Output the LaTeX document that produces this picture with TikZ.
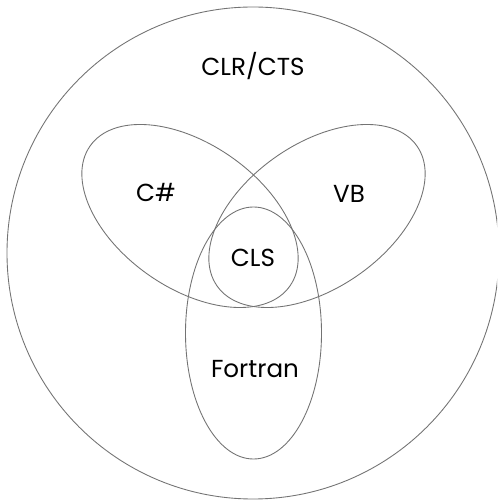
\documentclass[tikz,border=0pt]{standalone}
\usepackage{fontspec}
\setmainfont{Poppins}
\usetikzlibrary{positioning}

\begin{document}
\begin{tikzpicture}[x=0.02cm, y=0.02cm]
	\tikzstyle{set}=[draw=black!55, line width=0.5pt]
	\tikzstyle{settext}=[anchor=base, inner sep=0pt, font=\fontsize{14}{16}\selectfont]
	\useasboundingbox (0,0) rectangle (497,500);
	\clip (0,0) rectangle (497,500);

	% the runtime and the three languages
	\draw[set] (253,247) circle (246);
	\draw[set] (190,284) ellipse [x radius=122, y radius=72, rotate=-35];
	\draw[set] (317,284) ellipse [x radius=122, y radius=72, rotate=35];
	\draw[set] (253.5,167) ellipse [x radius=68, y radius=126];

	\node[settext] (clr)     at (253,424) {CLR/CTS};
	\node[settext] (csharp)  at (156,298) {C\#};
	\node[settext] (vb)      at (349,297) {VB};
	\node[settext] (cls)     at (253,233) {CLS};
	\node[settext] (fortran) at (255,122) {Fortran};
\end{tikzpicture}
\end{document}
